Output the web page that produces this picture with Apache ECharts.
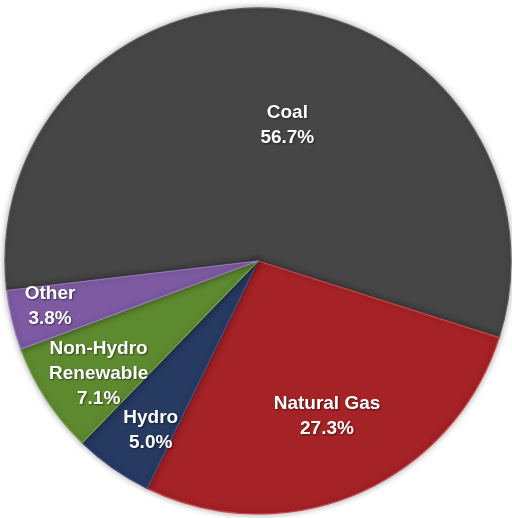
<!DOCTYPE html>
<html>
<head>
<meta charset="utf-8">
<script src="https://cdn.jsdelivr.net/npm/echarts@6/dist/echarts.min.js"></script>
<style>html,body{margin:0;padding:0;background:#fff;}#c{width:512px;height:518px;}</style>
</head>
<body>
<div id="c"></div>
<script>
var categories = ['Coal', 'Natural Gas', 'Hydro', 'Non-Hydro\nRenewable', 'Other'];
var values = [56.7, 27.3, 5.0, 7.1, 3.8];
var colors = ['#464646', '#a52226', '#263a62', '#5e8a2f', '#7d5aa2'];
var edgeColors = ['#5a5a5a', '#c8464a', '#3a5080', '#78a248', '#9a7cbc'];
var labelShift = [[17, -7], [18, 36], [-33, 63], [-51, 42], [-82, 15]];

var chart = echarts.init(document.getElementById('c'));
chart.setOption({
  backgroundColor: '#ffffff',
  animation: false,
  series: [{
    type: 'pie',
    center: [258, 261],
    radius: [0, 253],
    startAngle: 186.7,
    clockwise: true,
    silent: true,
    data: categories.map(function (n, i) {
      return {
        name: n,
        value: values[i],
        itemStyle: { color: colors[i], borderColor: edgeColors[i] }
      };
    }),
    itemStyle: {
      borderWidth: 1.2,
      shadowBlur: 6,
      shadowColor: 'rgba(0,0,0,0.35)'
    },
    label: {
      show: true,
      position: 'inside',
      color: '#ffffff',
      fontFamily: 'Liberation Sans, Arial, sans-serif',
      fontWeight: 'bold',
      fontSize: 19,
      lineHeight: 25,
      align: 'center',
      textShadowColor: 'rgba(0,0,0,0.5)',
      textShadowBlur: 2,
      textShadowOffsetX: 1,
      textShadowOffsetY: 1,
      formatter: function (p) { return p.name + '\n' + p.value.toFixed(1) + '%'; }
    },
    labelLine: { show: false },
    labelLayout: function (p) {
      var s = labelShift[p.dataIndex];
      return { dx: s[0], dy: s[1] };
    }
  }]
});
</script>
</body>
</html>
